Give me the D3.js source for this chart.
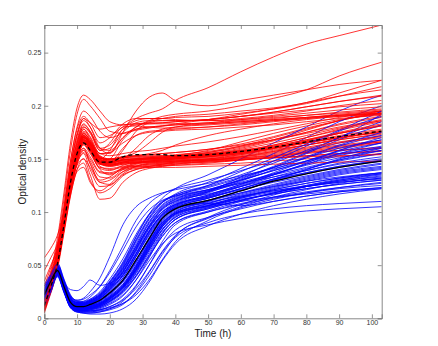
<!DOCTYPE html>
<html>
<head>
<meta charset="utf-8">
<script src="https://cdn.jsdelivr.net/npm/d3@7"></script>
<style>
html,body{margin:0;padding:0;background:#fff;}
svg{display:block;}
</style>
</head>
<body>
<svg id="chart" width="438" height="346"></svg>
<script>
// sample times (h)
const times = [0,2,4,6,8,10,12,14,17,20,24,28,32,36,40,50,60,70,80,90,103];

const xTicks = [0,10,20,30,40,50,60,70,80,90,100];
const yTicks = [0,0.05,0.1,0.15,0.2,0.25];
const yTickLabels = ["0","0.05","0.1","0.15","0.2","0.25"];

// red population: optical density at each sample time
const redCurves = [
[.008,.028,.050,.086,.124,.152,.170,.162,.147,.144,.146,.147,.147,.148,.148,.149,.151,.154,.158,.162,.166],
[.010,.031,.053,.090,.128,.156,.172,.164,.150,.147,.149,.150,.150,.150,.151,.152,.155,.160,.165,.170,.176],
[.006,.026,.048,.082,.118,.147,.165,.160,.146,.143,.145,.146,.146,.146,.147,.148,.149,.151,.153,.155,.158],
[.012,.033,.055,.092,.130,.158,.175,.166,.152,.148,.150,.151,.152,.152,.153,.155,.160,.167,.175,.183,.190],
[.009,.029,.051,.087,.125,.150,.163,.155,.142,.141,.143,.144,.145,.145,.146,.147,.149,.152,.155,.158,.161],
[.011,.032,.054,.089,.126,.153,.168,.163,.150,.147,.148,.149,.150,.151,.152,.156,.162,.170,.178,.186,.193],
[.007,.027,.049,.084,.121,.149,.167,.158,.143,.140,.142,.143,.143,.144,.144,.145,.146,.148,.150,.152,.155],
[.013,.034,.056,.093,.131,.160,.178,.168,.152,.149,.151,.153,.154,.155,.156,.159,.164,.171,.179,.186,.194],
[.010,.030,.052,.088,.126,.154,.170,.164,.151,.149,.151,.152,.152,.153,.153,.155,.158,.162,.168,.174,.181],
[.008,.028,.050,.085,.122,.148,.160,.152,.138,.137,.141,.143,.144,.145,.146,.148,.150,.153,.157,.161,.166],
[.011,.031,.053,.090,.127,.155,.174,.167,.153,.150,.151,.152,.153,.153,.154,.157,.162,.168,.175,.182,.189],
[.009,.029,.051,.086,.123,.150,.166,.161,.148,.145,.147,.147,.148,.148,.149,.150,.152,.155,.159,.163,.167],
[.012,.032,.054,.091,.129,.157,.173,.165,.151,.148,.149,.150,.151,.152,.153,.156,.161,.168,.177,.186,.195],
[.007,.027,.049,.083,.120,.146,.158,.150,.137,.136,.140,.142,.143,.144,.145,.147,.149,.151,.153,.155,.157],
[.010,.030,.052,.088,.125,.153,.169,.160,.147,.145,.147,.148,.149,.149,.150,.152,.155,.160,.166,.172,.178],
[.008,.029,.051,.087,.124,.151,.167,.159,.146,.144,.146,.147,.147,.147,.148,.149,.151,.153,.156,.158,.160],
[.009,.029,.051,.086,.122,.146,.155,.140,.124,.125,.135,.140,.142,.143,.144,.146,.149,.152,.156,.160,.165],
[.011,.031,.052,.087,.121,.144,.150,.135,.112,.113,.128,.137,.141,.143,.145,.148,.152,.157,.163,.169,.176],
[.008,.028,.050,.084,.118,.140,.146,.130,.118,.122,.134,.140,.143,.145,.147,.150,.154,.160,.167,.174,.182],
[.010,.030,.052,.088,.124,.150,.160,.145,.130,.133,.142,.146,.148,.149,.150,.152,.155,.159,.163,.168,.173],
[.012,.034,.058,.095,.132,.160,.176,.170,.150,.158,.178,.182,.183,.183,.183,.184,.186,.188,.191,.193,.196],
[.010,.031,.054,.090,.127,.156,.172,.165,.148,.150,.168,.178,.180,.181,.182,.183,.185,.187,.189,.191,.193],
[.015,.036,.060,.097,.135,.164,.180,.175,.158,.165,.180,.181,.180,.179,.179,.180,.182,.185,.188,.191,.195],
[.009,.030,.053,.089,.126,.155,.170,.163,.146,.147,.160,.172,.176,.177,.178,.180,.183,.186,.189,.192,.195],
[.020,.045,.075,.118,.165,.198,.210,.206,.195,.185,.182,.183,.184,.184,.185,.187,.190,.193,.196,.199,.202],
[.018,.042,.070,.112,.158,.192,.206,.200,.188,.176,.174,.177,.179,.181,.183,.187,.192,.197,.203,.209,.215],
[.014,.036,.062,.100,.142,.172,.188,.180,.160,.155,.175,.195,.208,.212,.205,.200,.205,.210,.215,.220,.224],
[.016,.040,.066,.105,.148,.178,.190,.184,.170,.172,.180,.188,.193,.197,.205,.217,.232,.246,.258,.266,.276],
[.013,.035,.060,.098,.138,.168,.183,.176,.160,.158,.170,.180,.186,.190,.192,.195,.200,.207,.215,.228,.241],
[.011,.032,.056,.093,.132,.162,.178,.171,.155,.156,.170,.180,.185,.188,.190,.192,.195,.198,.203,.212,.224],
[.017,.040,.065,.102,.142,.172,.186,.180,.165,.170,.183,.188,.188,.188,.189,.190,.193,.197,.202,.209,.218],
[.030,.048,.068,.100,.138,.165,.180,.174,.158,.160,.175,.184,.186,.186,.186,.187,.190,.194,.199,.204,.209],
[.057,.066,.078,.100,.128,.152,.166,.160,.148,.146,.149,.150,.151,.152,.152,.154,.158,.163,.170,.177,.185],
[.045,.057,.070,.095,.125,.150,.164,.157,.145,.144,.147,.149,.150,.150,.151,.153,.156,.160,.165,.170,.175],
[.035,.050,.066,.094,.126,.152,.168,.161,.149,.147,.149,.150,.151,.151,.152,.154,.157,.161,.166,.171,.177],
[.025,.042,.061,.092,.128,.155,.170,.165,.152,.150,.152,.153,.154,.155,.156,.159,.163,.168,.174,.180,.187],
[.005,.024,.046,.080,.115,.140,.150,.142,.128,.130,.138,.141,.142,.142,.142,.143,.144,.145,.146,.147,.148],
[.009,.029,.050,.083,.116,.138,.142,.128,.120,.126,.138,.143,.145,.146,.147,.149,.152,.156,.160,.165,.170],
[.010,.030,.052,.088,.126,.154,.171,.166,.155,.153,.155,.157,.158,.160,.162,.166,.171,.177,.183,.189,.195],
[.008,.028,.050,.086,.123,.150,.165,.158,.145,.143,.145,.146,.147,.147,.148,.149,.150,.151,.152,.153,.154],
[.010,.030,.052,.087,.122,.148,.158,.148,.133,.132,.140,.145,.147,.148,.149,.151,.154,.158,.163,.168,.174],
[.008,.028,.050,.085,.120,.145,.156,.146,.128,.126,.136,.143,.146,.147,.148,.150,.153,.157,.161,.166,.171],
[.011,.032,.054,.090,.128,.155,.168,.158,.140,.135,.141,.146,.148,.149,.150,.152,.156,.161,.167,.174,.181],
[.009,.029,.051,.086,.123,.150,.164,.156,.141,.139,.144,.147,.148,.149,.150,.153,.157,.163,.170,.178,.186],
[.010,.031,.053,.089,.126,.154,.170,.162,.147,.146,.150,.160,.172,.178,.180,.182,.184,.186,.188,.190,.192],
[.012,.033,.055,.091,.128,.156,.172,.166,.151,.149,.152,.156,.165,.175,.180,.183,.185,.187,.189,.191,.193],
[.009,.030,.052,.088,.125,.152,.167,.160,.146,.146,.158,.176,.184,.186,.186,.186,.187,.189,.191,.194,.197],
[.011,.032,.054,.090,.127,.155,.171,.164,.150,.150,.152,.153,.155,.158,.163,.172,.178,.183,.187,.190,.193],
[.013,.034,.056,.092,.129,.157,.174,.168,.155,.156,.165,.172,.175,.176,.177,.178,.180,.182,.185,.188,.191],
[.010,.030,.052,.088,.125,.153,.169,.161,.147,.145,.147,.149,.150,.151,.153,.158,.166,.174,.181,.187,.192],
[.008,.029,.051,.087,.124,.151,.166,.159,.145,.144,.146,.148,.149,.150,.151,.154,.159,.165,.172,.179,.186],
[.016,.038,.064,.104,.148,.180,.195,.190,.176,.170,.174,.178,.180,.181,.182,.184,.187,.190,.193,.196,.199],
[.014,.036,.061,.100,.143,.174,.188,.184,.178,.180,.182,.183,.183,.184,.185,.187,.190,.194,.199,.204,.210],
[.012,.034,.058,.096,.136,.166,.182,.176,.160,.163,.178,.186,.188,.188,.187,.186,.188,.191,.195,.200,.205],
[.009,.030,.052,.088,.126,.154,.168,.161,.148,.146,.148,.149,.150,.150,.151,.153,.156,.160,.165,.170,.175],
[.011,.031,.053,.089,.127,.155,.171,.163,.149,.147,.149,.150,.151,.151,.152,.154,.157,.162,.168,.175,.183]
];

// blue population
const blueCurves = [
[.020,.033,.045,.030,.015,.011,.011,.013,.017,.024,.036,.055,.075,.094,.103,.111,.120,.129,.136,.142,.148],
[.015,.030,.044,.028,.013,.009,.009,.011,.014,.020,.030,.046,.066,.086,.098,.106,.114,.121,.127,.132,.137],
[.025,.037,.048,.033,.018,.013,.013,.015,.020,.030,.046,.068,.090,.106,.113,.121,.130,.139,.147,.154,.160],
[.022,.035,.047,.032,.018,.015,.016,.020,.030,.045,.068,.092,.108,.117,.122,.130,.139,.148,.157,.165,.172],
[.018,.031,.043,.026,.010,.006,.005,.005,.006,.009,.016,.030,.050,.072,.088,.100,.108,.114,.119,.123,.127],
[.012,.027,.041,.027,.012,.008,.008,.009,.012,.017,.027,.044,.064,.083,.095,.104,.111,.117,.122,.126,.130],
[.030,.040,.050,.035,.020,.015,.014,.016,.021,.031,.047,.067,.086,.100,.107,.116,.126,.137,.148,.158,.168],
[.010,.025,.040,.025,.011,.008,.007,.008,.010,.014,.022,.036,.054,.070,.080,.088,.094,.098,.101,.103,.105],
[.020,.034,.046,.030,.015,.012,.012,.014,.019,.028,.043,.064,.085,.100,.107,.114,.122,.130,.137,.143,.149],
[.016,.030,.043,.028,.013,.010,.010,.012,.016,.023,.035,.053,.073,.090,.099,.106,.112,.117,.122,.126,.130],
[.024,.036,.047,.034,.027,.026,.030,.036,.031,.033,.042,.060,.082,.098,.106,.115,.124,.133,.141,.148,.155],
[.008,.024,.039,.024,.010,.006,.006,.007,.009,.013,.021,.036,.057,.079,.093,.103,.111,.118,.124,.129,.134],
[.019,.032,.044,.027,.011,.007,.005,.004,.004,.005,.009,.018,.034,.054,.070,.087,.098,.106,.112,.117,.122],
[.021,.034,.046,.031,.016,.012,.012,.014,.018,.026,.040,.060,.081,.098,.108,.118,.129,.140,.151,.162,.172],
[.026,.038,.049,.034,.019,.014,.014,.017,.023,.034,.052,.076,.098,.113,.122,.135,.150,.165,.180,.195,.210],
[.023,.036,.048,.033,.017,.013,.013,.016,.022,.033,.050,.073,.094,.109,.117,.128,.141,.155,.170,.185,.200],
[.014,.028,.042,.027,.012,.009,.009,.010,.013,.019,.030,.048,.069,.088,.099,.108,.116,.124,.131,.137,.142],
[.028,.039,.049,.034,.019,.014,.014,.016,.021,.030,.045,.066,.087,.103,.111,.119,.127,.135,.142,.149,.155],
[.011,.026,.041,.026,.011,.007,.007,.008,.011,.016,.025,.040,.059,.077,.090,.100,.107,.113,.118,.122,.125],
[.017,.031,.044,.029,.014,.010,.010,.012,.015,.022,.034,.052,.074,.093,.104,.113,.122,.131,.139,.146,.152],
[.024,.037,.048,.034,.020,.017,.019,.025,.038,.058,.088,.105,.113,.118,.121,.127,.134,.141,.148,.155,.162],
[.013,.028,.042,.027,.012,.008,.008,.009,.012,.018,.028,.045,.065,.084,.096,.106,.115,.123,.130,.136,.141],
[.032,.042,.052,.037,.022,.016,.015,.017,.022,.032,.048,.070,.091,.105,.112,.120,.128,.136,.144,.151,.158],
[.018,.032,.045,.030,.014,.010,.010,.011,.014,.020,.031,.049,.071,.091,.102,.111,.118,.124,.129,.133,.137],
[.015,.029,.042,.026,.010,.006,.005,.005,.006,.008,.013,.025,.043,.062,.076,.090,.098,.103,.106,.108,.110],
[.020,.033,.045,.030,.015,.011,.011,.013,.017,.025,.038,.058,.080,.097,.106,.116,.126,.136,.145,.153,.161],
[.009,.025,.040,.025,.010,.007,.007,.008,.010,.015,.024,.039,.058,.077,.090,.101,.110,.118,.125,.131,.136],
[.022,.035,.047,.031,.016,.012,.012,.014,.019,.028,.043,.063,.084,.100,.109,.119,.130,.142,.155,.168,.182],
[.016,.030,.043,.028,.013,.009,.009,.010,.013,.019,.029,.046,.067,.086,.097,.106,.113,.119,.124,.128,.132],
[.027,.038,.049,.034,.019,.015,.015,.018,.025,.037,.056,.079,.098,.110,.116,.124,.133,.142,.151,.160,.168],
[.019,.032,.044,.029,.014,.010,.009,.010,.012,.017,.026,.042,.062,.081,.093,.103,.111,.118,.124,.129,.133],
[.012,.027,.041,.026,.011,.008,.008,.009,.011,.016,.026,.043,.064,.083,.095,.105,.114,.122,.129,.135,.140],
[.021,.034,.046,.031,.016,.012,.012,.014,.018,.027,.041,.061,.082,.097,.104,.108,.106,.110,.115,.119,.123],
[.024,.036,.047,.032,.017,.013,.013,.015,.020,.029,.044,.065,.086,.102,.110,.120,.131,.143,.156,.170,.185],
[.017,.031,.044,.029,.014,.010,.010,.011,.014,.021,.032,.050,.071,.090,.101,.110,.118,.126,.133,.139,.145],
[.010,.026,.041,.026,.011,.007,.006,.006,.008,.011,.018,.031,.050,.069,.083,.095,.103,.110,.115,.119,.122],
[.023,.036,.047,.032,.017,.013,.013,.015,.020,.029,.044,.065,.087,.103,.110,.117,.124,.131,.137,.143,.148],
[.014,.029,.043,.028,.013,.009,.009,.010,.013,.018,.028,.045,.066,.086,.098,.108,.117,.125,.132,.138,.143],
[.026,.038,.049,.034,.019,.015,.015,.017,.023,.034,.051,.074,.095,.109,.116,.125,.135,.146,.158,.170,.192],
[.020,.033,.045,.030,.015,.011,.010,.011,.014,.019,.029,.046,.068,.088,.100,.109,.115,.120,.124,.128,.131],
[.022,.035,.046,.031,.016,.012,.012,.014,.019,.027,.041,.061,.082,.098,.107,.119,.133,.148,.162,.176,.190],
[.025,.037,.048,.033,.018,.014,.014,.016,.022,.032,.049,.072,.093,.107,.114,.125,.138,.151,.164,.177,.195],
[.019,.033,.045,.030,.015,.011,.011,.013,.017,.025,.038,.058,.079,.096,.105,.114,.124,.135,.146,.158,.170],
[.013,.028,.042,.027,.012,.008,.007,.007,.008,.011,.017,.028,.044,.063,.078,.094,.105,.114,.121,.127,.132],
[.017,.031,.044,.028,.012,.008,.007,.007,.008,.010,.014,.022,.036,.055,.072,.092,.104,.112,.118,.123,.128],
[.021,.034,.046,.031,.016,.012,.011,.012,.015,.021,.032,.050,.072,.092,.103,.113,.121,.128,.134,.140,.146],
[.028,.040,.050,.035,.021,.017,.018,.022,.030,.043,.064,.086,.102,.111,.115,.121,.127,.133,.139,.145,.150],
[.011,.026,.040,.025,.011,.008,.008,.009,.012,.018,.029,.047,.068,.087,.098,.105,.110,.114,.117,.120,.123],
[.016,.030,.043,.028,.013,.009,.009,.010,.013,.019,.030,.048,.070,.089,.100,.110,.120,.130,.140,.150,.160],
[.023,.036,.047,.032,.017,.013,.013,.015,.019,.027,.040,.058,.078,.095,.104,.113,.122,.131,.140,.149,.158],
[.014,.029,.043,.027,.011,.007,.006,.006,.007,.009,.014,.024,.040,.060,.077,.095,.107,.116,.124,.130,.136],
[.020,.033,.045,.030,.015,.011,.011,.012,.016,.023,.035,.054,.076,.095,.105,.115,.125,.135,.145,.155,.165],
[.018,.032,.044,.029,.014,.010,.010,.011,.014,.020,.031,.048,.069,.088,.099,.107,.114,.120,.125,.130,.135],
[.026,.038,.049,.034,.019,.014,.014,.016,.021,.031,.047,.068,.089,.104,.112,.121,.130,.139,.148,.157,.165],
[.012,.027,.041,.026,.011,.008,.008,.009,.011,.016,.025,.040,.060,.080,.093,.104,.113,.121,.127,.132,.137],
[.030,.041,.051,.036,.021,.016,.016,.018,.024,.035,.053,.077,.097,.109,.115,.123,.132,.142,.152,.163,.175]
];

// population means (black dashed = red, black solid = blue)
const redMean  = [.012,.030,.051,.088,.128,.155,.165,.158,.147,.147,.152,.154,.154,.154,.153,.154,.157,.161,.166,.171,.176];
const blueMean = [.022,.035,.045,.030,.015,.011,.011,.013,.017,.024,.036,.055,.075,.094,.103,.111,.120,.129,.136,.142,.148];

const W = 438, H = 346;
const m = {left:44.3, right:56.3, top:25, bottom:27.7};
const svg = d3.select("#chart");

const x = d3.scaleLinear().domain([0,103]).range([m.left, W - m.right]);
const y = d3.scaleLinear().domain([0,0.276]).range([H - m.bottom, m.top]);

const line = d3.line()
  .x((d,i)=>x(times[i]))
  .y(d=>y(d))
  .curve(d3.curveMonotoneX);

svg.append("defs").append("clipPath").attr("id","clip")
  .append("rect").attr("x",m.left).attr("y",m.top)
  .attr("width",W-m.left-m.right).attr("height",H-m.top-m.bottom);

const g = svg.append("g").attr("clip-path","url(#clip)");

const n = Math.max(redCurves.length, blueCurves.length);
for (let i = 0; i < n; i++) {
  if (redCurves[i]) g.append("path").attr("d", line(redCurves[i]))
      .attr("fill","none").attr("stroke","#ff0000").attr("stroke-width",0.8);
  if (blueCurves[i]) g.append("path").attr("d", line(blueCurves[i]))
      .attr("fill","none").attr("stroke","#0000ff").attr("stroke-width",0.8);
}
g.append("path").attr("d", line(blueMean)).attr("fill","none")
  .attr("stroke","#000").attr("stroke-width",1.3);
g.append("path").attr("d", line(redMean)).attr("fill","none")
  .attr("stroke","#000").attr("stroke-width",1.3).attr("stroke-dasharray","4,3");

// axes (box with inward ticks on all sides)
const axisColor = "#7a7a7a";
const font = "Liberation Sans, Arial, Helvetica, sans-serif";
const tickLen = 4;

const xb = svg.append("g").attr("transform",`translate(0,${H-m.bottom})`)
  .call(d3.axisBottom(x).tickValues(xTicks).tickSize(-tickLen).tickPadding(2).tickFormat(d3.format("d")));
const xt = svg.append("g").attr("transform",`translate(0,${m.top})`)
  .call(d3.axisTop(x).tickValues(xTicks).tickSize(-tickLen).tickFormat(""));
const yl = svg.append("g").attr("transform",`translate(${m.left},0)`)
  .call(d3.axisLeft(y).tickValues(yTicks).tickSize(-tickLen).tickPadding(3)
    .tickFormat((d,i)=>yTickLabels[i]));
const yr = svg.append("g").attr("transform",`translate(${W-m.right},0)`)
  .call(d3.axisRight(y).tickValues(yTicks).tickSize(-tickLen).tickFormat(""));

[xb,xt,yl,yr].forEach(a=>{
  a.select(".domain").attr("stroke",axisColor).attr("stroke-width",0.9);
  a.selectAll(".tick line").attr("stroke",axisColor).attr("stroke-width",0.8);
  a.selectAll(".tick text").attr("fill","#333").style("font-family",font).style("font-size","7px");
});
// bottom labels sit just under the axis
xb.selectAll(".tick text").attr("y",2);

svg.append("text").attr("x",(m.left + W - m.right)/2).attr("y",337)
  .attr("text-anchor","middle").style("font-family",font).style("font-size","10px")
  .attr("fill","#222").text("Time (h)");
svg.append("text").attr("transform",`translate(26,${(m.top + H - m.bottom)/2}) rotate(-90)`)
  .attr("text-anchor","middle").style("font-family",font).style("font-size","10px")
  .attr("fill","#222").text("Optical density");
</script>
</body>
</html>
